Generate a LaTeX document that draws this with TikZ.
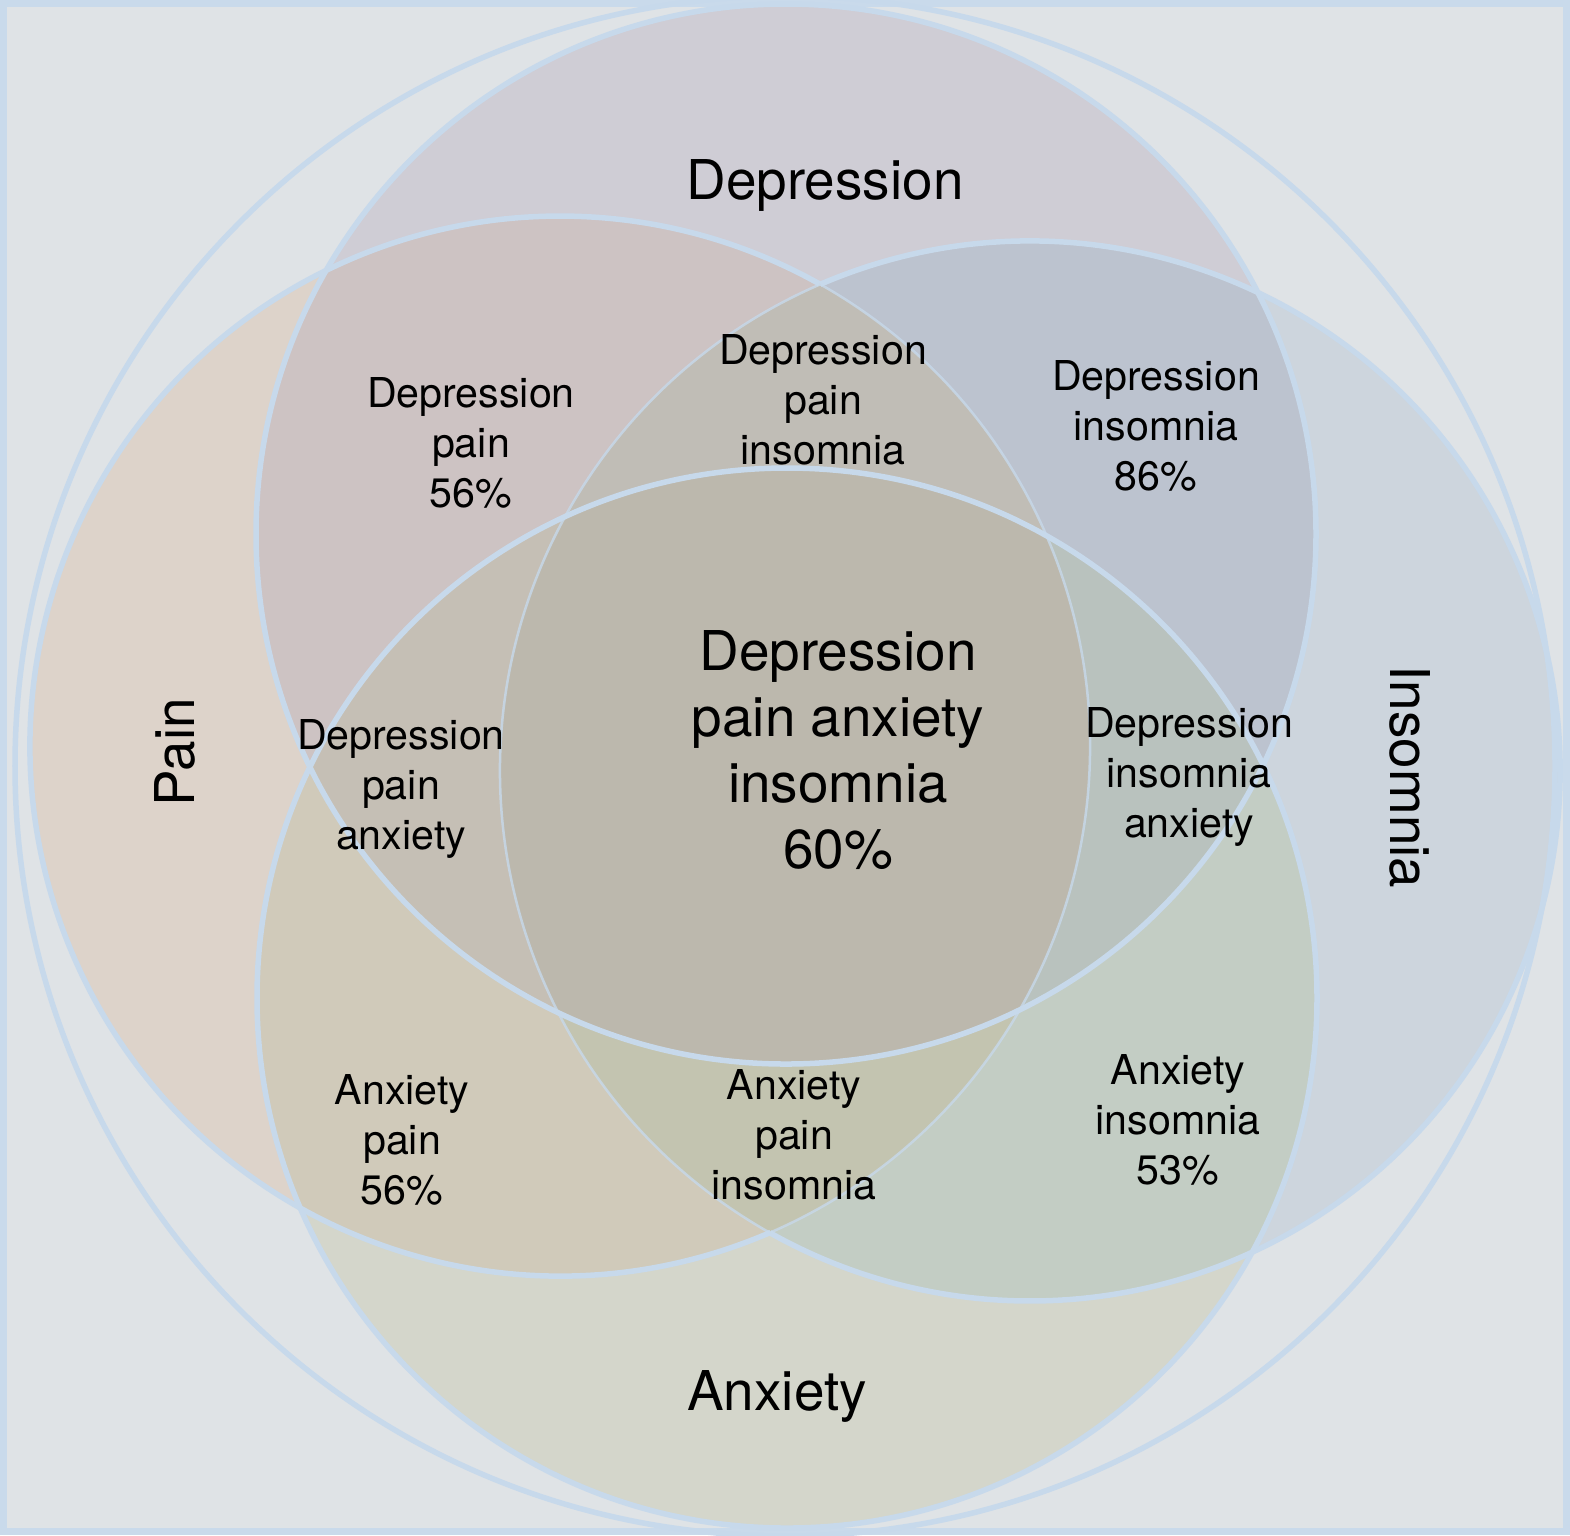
\documentclass[tikz,border=0pt]{standalone}
\usepackage{fontspec}
\setmainfont{TeX Gyre Heros}
\definecolor{bgc}{HTML}{DFE3E6}
\definecolor{framec}{HTML}{C9DAEB}
\definecolor{linec}{HTML}{C7D9EB}
\definecolor{fP}{HTML}{DDD3CA}
\definecolor{fD}{HTML}{CFCDD5}
\definecolor{fI}{HTML}{CDD5DD}
\definecolor{fA}{HTML}{D4D6CB}
\definecolor{fDP}{HTML}{CDC3C3}
\definecolor{fDI}{HTML}{BCC3CF}
\definecolor{fAP}{HTML}{D0CABA}
\definecolor{fAI}{HTML}{C3CDC4}
\definecolor{fDPI}{HTML}{C0BDB6}
\definecolor{fDPA}{HTML}{C5BFB5}
\definecolor{fDIA}{HTML}{B9C2BE}
\definecolor{fAPI}{HTML}{C3C4B0}
\definecolor{fAll}{HTML}{BCB8AD}
\begin{document}
\begin{tikzpicture}[x=0.01cm,y=-0.01cm,
  thickedge/.style={draw=linec,line width=0.055cm},
  faintedge/.style={draw=linec,line width=0.025cm,draw opacity=0.8},
  lab/.style={align=center,inner sep=0pt,font=\fontsize{11.7}{14.2}\selectfont},
  biglab/.style={align=center,inner sep=0pt,font=\fontsize{15.6}{18.8}\selectfont}]
\useasboundingbox (0,0) rectangle (1570,1535);
\fill[framec] (0,0) rectangle (1570,1535);
\fill[bgc] (7,7) rectangle (1563,1528);
\coordinate (cP) at (560,746);
\coordinate (cD) at (786,534);
\coordinate (cI) at (1030,771);
\coordinate (cA) at (787,998);
\coordinate (cO) at (785,766);
% single sets
\fill[fP] (cP) circle[radius=530];
\fill[fD] (cD) circle[radius=530];
\fill[fI] (cI) circle[radius=530];
\fill[fA] (cA) circle[radius=530];
% pairs
\begin{scope}\clip (cP) circle[radius=530]; \fill[fDP] (cD) circle[radius=530];\end{scope}
\begin{scope}\clip (cD) circle[radius=530]; \fill[fDI] (cI) circle[radius=530];\end{scope}
\begin{scope}\clip (cA) circle[radius=530]; \fill[fAP] (cP) circle[radius=530];\end{scope}
\begin{scope}\clip (cA) circle[radius=530]; \fill[fAI] (cI) circle[radius=530];\end{scope}
% triples
\begin{scope}\clip (cD) circle[radius=530]; \clip (cP) circle[radius=530]; \fill[fDPI] (cI) circle[radius=530];\end{scope}
\begin{scope}\clip (cD) circle[radius=530]; \clip (cP) circle[radius=530]; \fill[fDPA] (cA) circle[radius=530];\end{scope}
\begin{scope}\clip (cD) circle[radius=530]; \clip (cI) circle[radius=530]; \fill[fDIA] (cA) circle[radius=530];\end{scope}
\begin{scope}\clip (cA) circle[radius=530]; \clip (cP) circle[radius=530]; \fill[fAPI] (cI) circle[radius=530];\end{scope}
% all four
\begin{scope}\clip (cD) circle[radius=530]; \clip (cP) circle[radius=530]; \clip (cI) circle[radius=530]; \fill[fAll] (cA) circle[radius=530];\end{scope}
% outlines of pain and insomnia
\draw[thickedge] (cP) ++(66.6:530) arc[start angle=66.6,end angle=299.3,radius=530];
\draw[faintedge] (cP) ++(-60.7:530) arc[start angle=-60.7,end angle=66.6,radius=530];
\draw[thickedge] (cI) ++(-113.3:530) arc[start angle=-113.3,end angle=119.4,radius=530];
\draw[faintedge] (cI) ++(119.4:530) arc[start angle=119.4,end angle=246.7,radius=530];
% outlines of depression and anxiety
\draw[thickedge] (cD) circle[radius=530];
\draw[thickedge] (cA) circle[radius=530];
% outer circle
\draw[thickedge] (cO) circle[radius=770];
% labels
\node[biglab] (tD) at (825,185) {Depression};
\node[biglab] (tA) at (777,1396) {Anxiety};
\node[biglab,rotate=90] (tP) at (175,752) {Pain};
\node[biglab,rotate=-90] (tI) at (1410,777) {Insomnia};
\node[lab] (dp) at (471,443) {Depression\\pain\\56\%};
\node[lab] (dpi) at (823,400) {Depression\\pain\\insomnia};
\node[lab] (di) at (1156,426) {Depression\\insomnia\\86\%};
\node[lab] (dpa) at (401,789) {Depression\\pain\\anxiety};
\node[biglab] (all) at (838,750) {Depression\\pain anxiety\\insomnia\\60\%};
\node[lab] (dia) at (1189,777) {Depression\\insomnia\\anxiety};
\node[lab] (ap) at (402,1140) {Anxiety\\pain\\56\%};
\node[lab] (api) at (794,1135) {Anxiety\\pain\\insomnia};
\node[lab] (ai) at (1178,1120) {Anxiety\\insomnia\\53\%};
\end{tikzpicture}
\end{document}
